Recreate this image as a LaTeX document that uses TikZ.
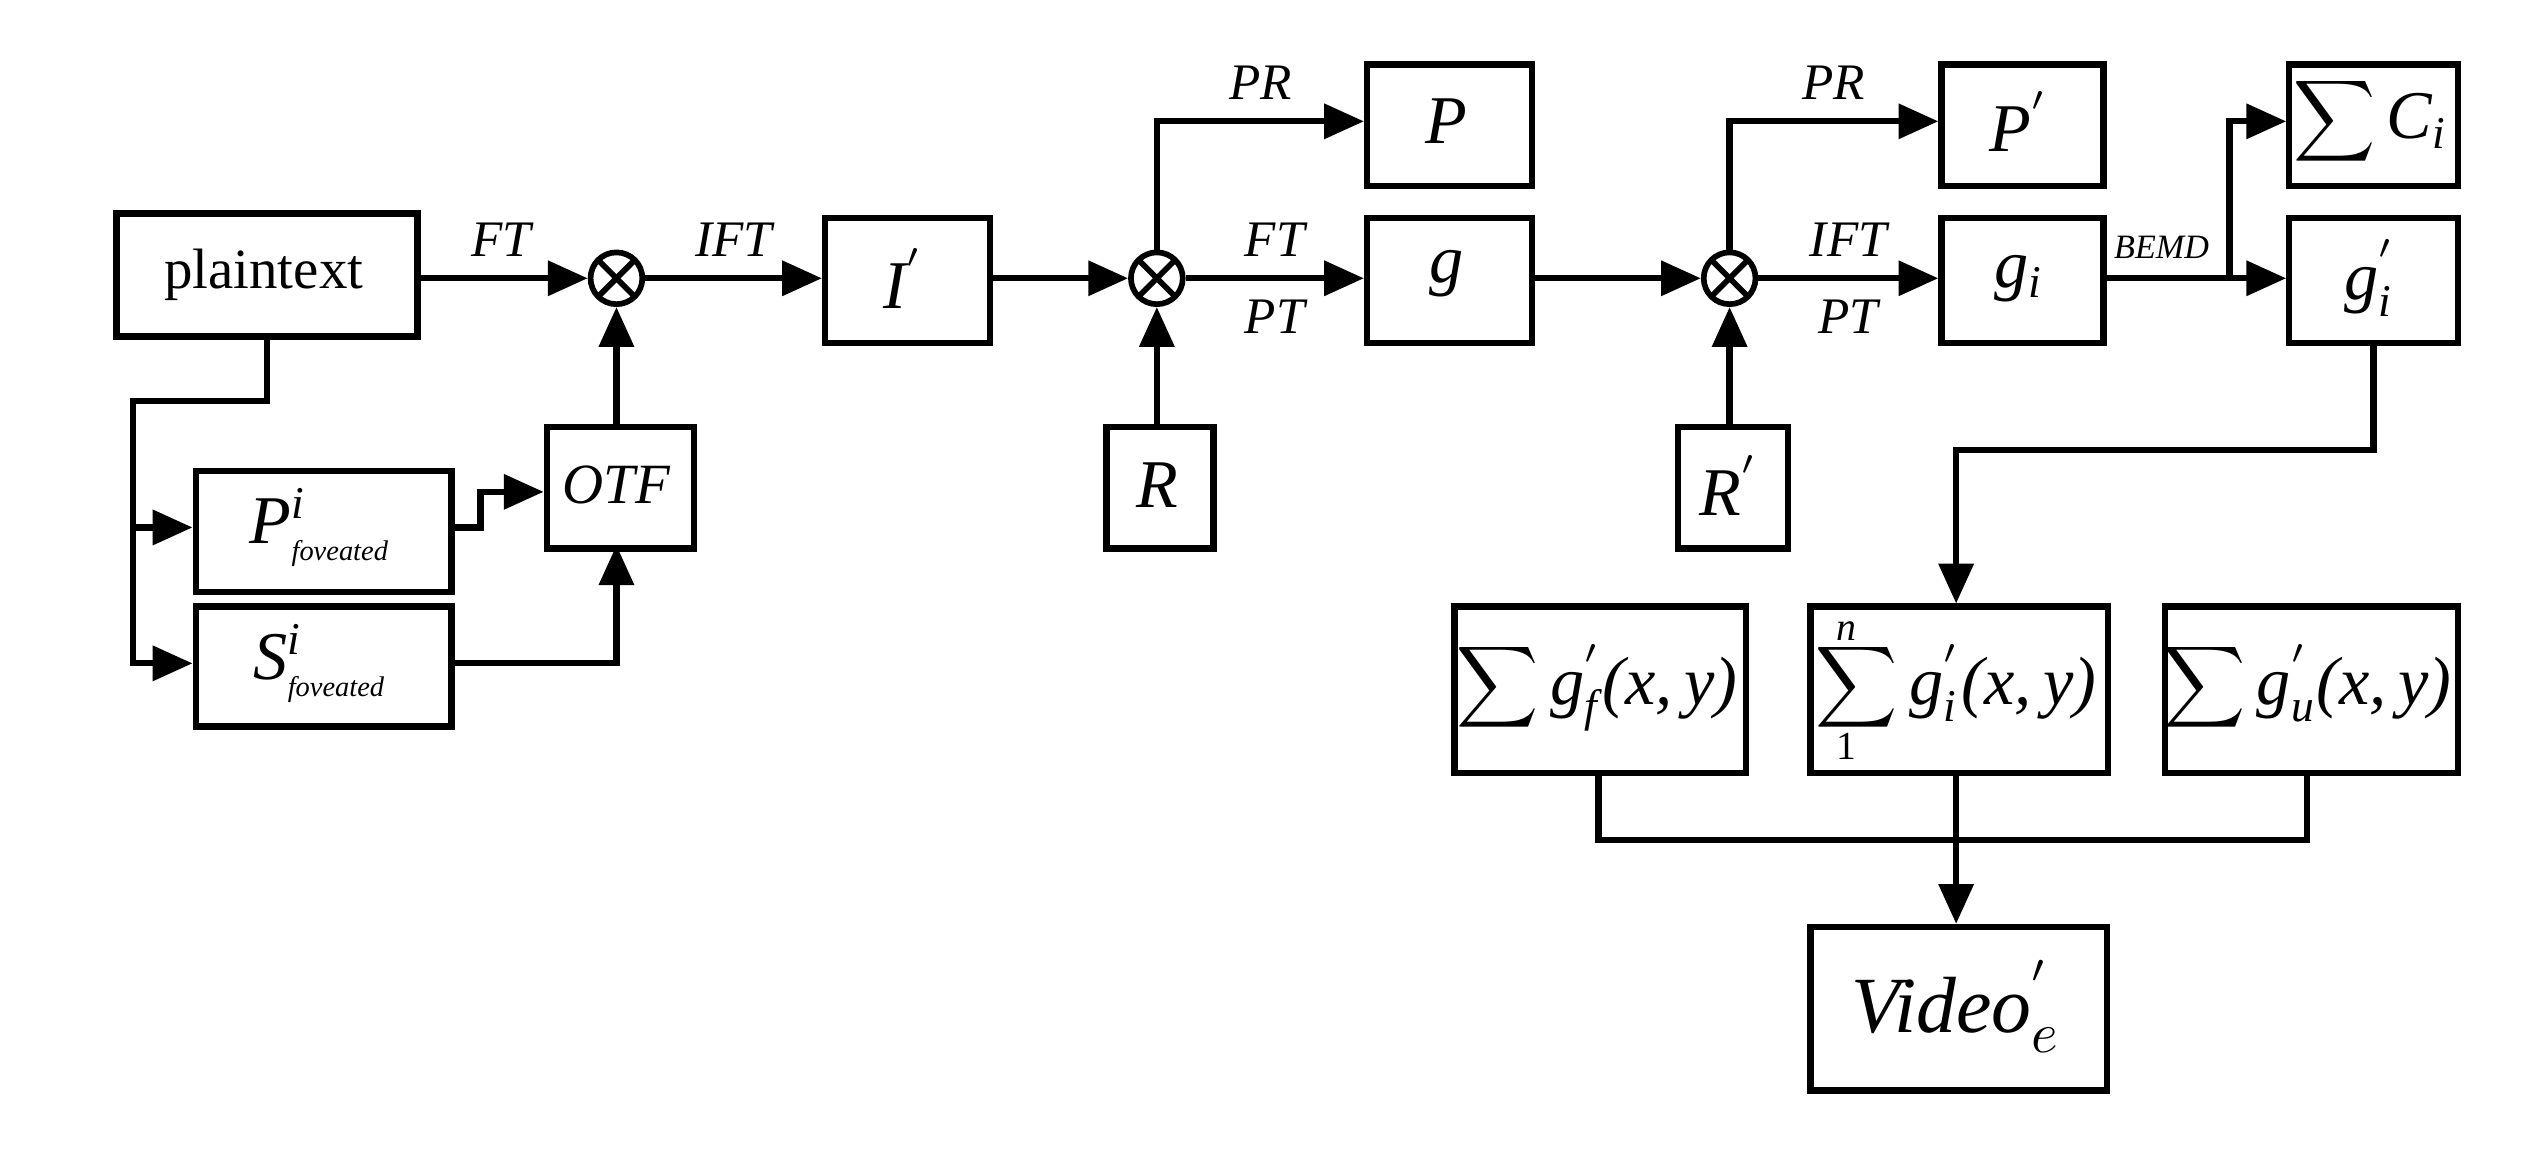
\documentclass[tikz,border=0pt]{standalone}
\usepackage{fontspec}
\setmainfont{Liberation Serif}
\usetikzlibrary{arrows.meta}
\begin{document}
\begin{tikzpicture}[x=0.01cm,y=-0.01cm,
  box/.style={draw,line width=1.1pt,inner sep=0pt,anchor=north west},
  ln/.style={line width=1.1pt},
  ar/.style={ln,-{Triangle[length=7pt,width=6pt]}},
  otimes/.style={circle,draw,line width=1pt,minimum size=0.32cm,inner sep=0pt,path picture={\draw[line width=1pt] (path picture bounding box.north west)--(path picture bounding box.south east) (path picture bounding box.north east)--(path picture bounding box.south west);}},
  lab/.style={font=\fontsize{9}{10}\selectfont\itshape},
  big/.style={font=\fontsize{12}{14}\selectfont\itshape}]
\useasboundingbox (0,0) rectangle (1568,713);
% boxes
\node[box,minimum width=1.86cm,minimum height=0.76cm] (pt) at (70,130) {};
\node at (163,170) {\fontsize{10}{12}\selectfont plaintext};
\node[box,minimum width=1.02cm,minimum height=0.77cm] (I) at (508,133) {};
\node[big] at (559,172) {I$^{'}$};
\node[box,minimum width=1.02cm,minimum height=0.75cm] (P) at (843,38) {};
\node[big] at (894,75) {P};
\node[box,minimum width=1.02cm,minimum height=0.77cm] (g) at (843,133) {};
\node[big] at (894,169) {g};
\node[box,minimum width=0.66cm,minimum height=0.75cm] (R) at (682,262) {};
\node[big] at (715,300) {R};
\node[box,minimum width=0.68cm,minimum height=0.75cm] (R2) at (1035,262) {};
\node[big] at (1069,300) {R$^{'}$};
\node[box,minimum width=1.0cm,minimum height=0.75cm] (P2) at (1198,38) {};
\node[big] at (1248,75) {P$^{'}$};
\node[box,minimum width=1.0cm,minimum height=0.77cm] (gi) at (1198,133) {};
\node[big] at (1248,172) {g$_{\mathit{i}}$};
\node[box,minimum width=1.04cm,minimum height=0.75cm] (C) at (1413,38) {};
\node[big] at (1465,75) {$\displaystyle\sum$\,C$_{\mathit{i}}$};
\node[box,minimum width=1.04cm,minimum height=0.77cm] (gi2) at (1413,133) {};
\node[big] at (1465,172) {g$^{'}_{\mathit{i}}$};
\node[box,minimum width=0.91cm,minimum height=0.75cm] (O) at (336,262) {};
\node[font=\fontsize{10}{12}\selectfont\itshape] at (381,300) {OTF};
\node[box,minimum width=1.58cm,minimum height=0.75cm] (Pf) at (119,289) {};
\node[big] at (198,326) {P$^{\mathit{i}}_{\textit{\tiny foveated}}$};
\node[box,minimum width=1.58cm,minimum height=0.74cm] (Sf) at (119,373) {};
\node[big] at (198,410) {S$^{\mathit{i}}_{\textit{\tiny foveated}}$};
\node[box,minimum width=1.8cm,minimum height=1.03cm] (gf) at (897,373) {};
\node[big] at (987,425) {$\displaystyle\sum$\,g$^{'}_{\mathit{f}}$(x,\,y)};
\node[box,minimum width=1.84cm,minimum height=1.03cm] (gn) at (1117,373) {};
\node[big] at (1209,425) {$\displaystyle\sum\nolimits$\,g$^{'}_{\mathit{i}}$(x,\,y)};
\node[font=\fontsize{7}{8}\selectfont\itshape] at (1141,390) {n};
\node[font=\fontsize{7}{8}\selectfont] at (1141,461) {1};
\node[box,minimum width=1.81cm,minimum height=1.03cm] (gu) at (1336,373) {};
\node[big] at (1426,425) {$\displaystyle\sum$\,g$^{'}_{\mathit{u}}$(x,\,y)};
\node[box,minimum width=1.83cm,minimum height=1.01cm] (V) at (1117,571) {};
\node[font=\fontsize{14}{16}\selectfont\itshape] at (1209,622) {Video$^{'}_{e}$};
% otimes
\node[otimes] (x1) at (381,172) {};
\node[otimes] (x2) at (715,172) {};
\node[otimes] (x3) at (1069,172) {};
% connectors
\draw[ar] (256,172) -- (x1.west) node[lab,midway,above] {FT};
\draw[ar] (x1.east) -- (508,172) node[lab,midway,above] {IFT};
\draw[ar] (610,172) -- (x2.west);
\draw[ar] (x2.east) -- (843,172) node[lab,midway,above] {FT} node[lab,midway,below] {PT};
\draw[ar] (x2.north) |- (843,75) node[lab,pos=0.75,above] {PR};
\draw[ar] (715,262) -- (x2.south);
\draw[ar] (945,172) -- (x3.west);
\draw[ar] (x3.east) -- (1198,172) node[lab,midway,above] {IFT} node[lab,midway,below] {PT};
\draw[ar] (x3.north) |- (1198,75) node[lab,pos=0.75,above] {PR};
\draw[ar] (1069,262) -- (x3.south);
\draw[ar] (1298,172) -- (1413,172);
\node[font=\fontsize{6}{7}\selectfont\itshape,above] at (1336,172) {BEMD};
\draw[ar] (1378,172) |- (1413,75);
\draw[ar] (1467,210) -- (1467,278) -| (1209,373);
\draw[ln] (165,206) -- (165,248) -| (82,326);
\draw[ar] (82,326) |- (119,410);
\draw[ar] (82,326) -- (119,326);
\draw[ar] (277,326) -- (297,326) |- (336,304);
\draw[ar] (277,410) -| (381,337);
\draw[ar] (381,262) -- (x1.south);
\draw[ln] (988,476) |- (1426,519) -- (1426,476);
\draw[ar] (1209,476) -- (1209,571);
\end{tikzpicture}
\end{document}
